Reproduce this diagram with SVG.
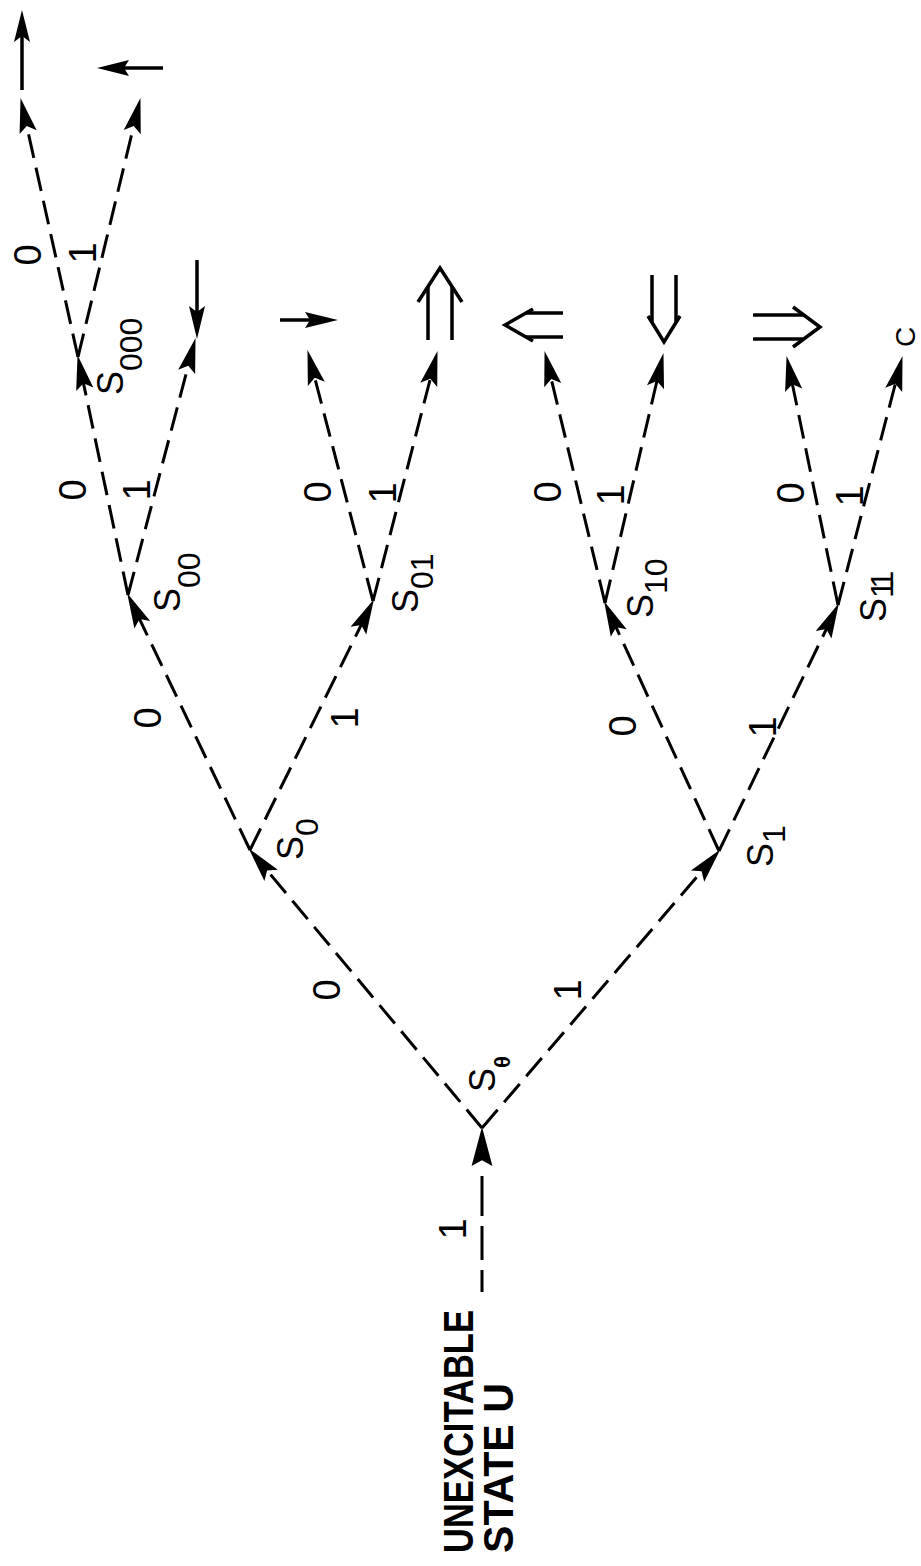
<svg xmlns="http://www.w3.org/2000/svg" width="921" height="1566" viewBox="0 0 921 1566">
<style>
.dash{fill:none;stroke:#000;stroke-width:3;stroke-dasharray:24 10;marker-end:url(#ah)}
.solid{fill:none;stroke:#000;stroke-width:3.5}
.head{fill:#000;stroke:none}
.el{font-family:"Liberation Sans",Arial,sans-serif;font-size:38px;fill:#000;text-anchor:middle;dominant-baseline:central}
.nl{font-family:"Liberation Sans",Arial,sans-serif;font-size:36px;fill:#000}
.sub{font-size:32px}
.big{font-family:"Liberation Sans",Arial,sans-serif;font-size:42px;font-weight:bold;fill:#000}
</style>
<defs>
<marker id="ah" markerUnits="userSpaceOnUse" markerWidth="40" markerHeight="20" viewBox="-22 -8 32 16" refX="0" refY="0" orient="auto">
<path d="M8,0 L-20,-7 L-15,0 L-20,7 Z" fill="#000"/>
</marker>
<marker id="ahbig" markerUnits="userSpaceOnUse" markerWidth="44" markerHeight="24" viewBox="-28 -10 38 20" refX="0" refY="0" orient="auto">
<path d="M8,0 L-26,-9 L-21,0 L-26,9 Z" fill="#000"/>
</marker>
</defs>
<rect width="921" height="1566" fill="#fff"/>

<g id="connectors">
<line class="dash" x1="482" y1="1292" x2="482" y2="1136" style="stroke-dasharray:22 10 34 10 40 50;marker-end:url(#ahbig)"/>
<line class="dash" x1="482" y1="1128" x2="255.1" y2="856.1"/>
<line class="dash" x1="482" y1="1128" x2="713.8" y2="857.1"/>
<line class="dash" x1="250" y1="850" x2="131.5" y2="602.2"/>
<line class="dash" x1="250" y1="850" x2="369.5" y2="608.2"/>
<line class="dash" x1="719" y1="851" x2="608.3" y2="610.3"/>
<line class="dash" x1="719" y1="851" x2="834.5" y2="612.2"/>
<line class="dash" x1="128" y1="595" x2="79.6" y2="364.8"/>
<line class="dash" x1="128" y1="595" x2="193.0" y2="347.7"/>
<line class="dash" x1="373" y1="601" x2="310.0" y2="359.7"/>
<line class="dash" x1="373" y1="601" x2="435.0" y2="360.7"/>
<line class="dash" x1="605" y1="603" x2="546.9" y2="360.8"/>
<line class="dash" x1="605" y1="603" x2="661.2" y2="362.8"/>
<line class="dash" x1="838" y1="605" x2="788.6" y2="365.8"/>
<line class="dash" x1="838" y1="605" x2="900.0" y2="365.7"/>
<line class="dash" x1="78" y1="357" x2="22.7" y2="107.8"/>
<line class="dash" x1="78" y1="357" x2="138.1" y2="107.8"/>
<g id="edge-labels">
<text class="el" transform="translate(453,1229) rotate(-90)">1</text>
<text class="el" transform="translate(327,990) rotate(-90)">0</text>
<text class="el" transform="translate(568,990) rotate(-90)">1</text>
<text class="el" transform="translate(148,718) rotate(-90)">0</text>
<text class="el" transform="translate(345,718) rotate(-90)">1</text>
<text class="el" transform="translate(623,726) rotate(-90)">0</text>
<text class="el" transform="translate(763,727) rotate(-90)">1</text>
<text class="el" transform="translate(73,490) rotate(-90)">0</text>
<text class="el" transform="translate(137,490) rotate(-90)">1</text>
<text class="el" transform="translate(318,492) rotate(-90)">0</text>
<text class="el" transform="translate(383,493) rotate(-90)">1</text>
<text class="el" transform="translate(548,492) rotate(-90)">0</text>
<text class="el" transform="translate(611,495) rotate(-90)">1</text>
<text class="el" transform="translate(791,493) rotate(-90)">0</text>
<text class="el" transform="translate(850,496) rotate(-90)">1</text>
<text class="el" transform="translate(28,255) rotate(-90)">0</text>
<text class="el" transform="translate(83,253) rotate(-90)">1</text>
</g>
</g>

<g id="node-U">
<text class="big" transform="translate(473,1553) rotate(-90)" textLength="243" lengthAdjust="spacingAndGlyphs">UNEXCITABLE</text>
<text class="big" transform="translate(513,1553) rotate(-90)" textLength="170" lengthAdjust="spacingAndGlyphs">STATE <tspan font-weight="900">U</tspan></text>
</g>
<g id="node-S-theta">
<text class="nl" transform="translate(495,1092) rotate(-90)">S<tspan dy="15" style="font-size:22px;font-weight:bold">θ</tspan></text>
</g>
<g id="node-S0">
<text class="nl" transform="translate(303,860) rotate(-90)">S<tspan class="sub" dy="15">0</tspan></text>
</g>
<g id="node-S1">
<text class="nl" transform="translate(773,867) rotate(-90)">S<tspan class="sub" dy="12">1</tspan></text>
</g>
<g id="node-S00">
<text class="nl" transform="translate(180,612) rotate(-90)">S<tspan class="sub" dy="20">00</tspan></text>
</g>
<g id="node-S01">
<text class="nl" transform="translate(418,613) rotate(-90)">S<tspan class="sub" dy="15">01</tspan></text>
</g>
<g id="node-S10">
<text class="nl" transform="translate(653,618) rotate(-90)">S<tspan class="sub" dy="14">10</tspan></text>
</g>
<g id="node-S11">
<text class="nl" transform="translate(886,622) rotate(-90)">S<tspan class="sub" dy="7" letter-spacing="-6">11</tspan></text>
</g>
<g id="node-S000">
<text class="nl" transform="translate(123,395) rotate(-90)">S<tspan class="sub" dy="19">000</tspan></text>
</g>

<g id="out-up">
<line class="solid" x1="22" y1="90" x2="22" y2="36"/>
<polygon class="head" points="22,10 14,42 22,36 30,42"/>
</g>
<g id="out-left">
<line class="solid" x1="163" y1="68" x2="124" y2="68"/>
<polygon class="head" points="97,68 129,60 124,68 129,76"/>
</g>
<g id="out-down">
<line class="solid" x1="197" y1="260" x2="197" y2="312"/>
<polygon class="head" points="197,339 189,306 197,312 205,306"/>
</g>
<g id="out-right">
<line class="solid" x1="280" y1="320" x2="310" y2="320"/>
<polygon class="head" points="338,320 305,312 310,320 305,328"/>
</g>
<g id="out-double-up">
<polyline class="solid" points="418,302 440,268 462,302"/>
<line class="solid" x1="428" y1="287" x2="428" y2="340"/>
<line class="solid" x1="452" y1="287" x2="452" y2="340"/>
</g>
<g id="out-double-left">
<polyline class="solid" points="533,309 505,325 533,341"/>
<line class="solid" x1="526" y1="313" x2="563" y2="313"/>
<line class="solid" x1="526" y1="337" x2="563" y2="337"/>
</g>
<g id="out-double-down">
<polyline class="solid" points="648,316 664,342 680,316"/>
<line class="solid" x1="652" y1="275" x2="652" y2="323"/>
<line class="solid" x1="676" y1="275" x2="676" y2="323"/>
</g>
<g id="out-double-right">
<polyline class="solid" points="793,307 820,327 793,347"/>
<line class="solid" x1="753" y1="315" x2="804" y2="315"/>
<line class="solid" x1="753" y1="339" x2="804" y2="339"/>
</g>
<g id="out-C">
<text class="el" style="font-size:28px" transform="translate(905,337) rotate(-90)">C</text>
</g>
</svg>
